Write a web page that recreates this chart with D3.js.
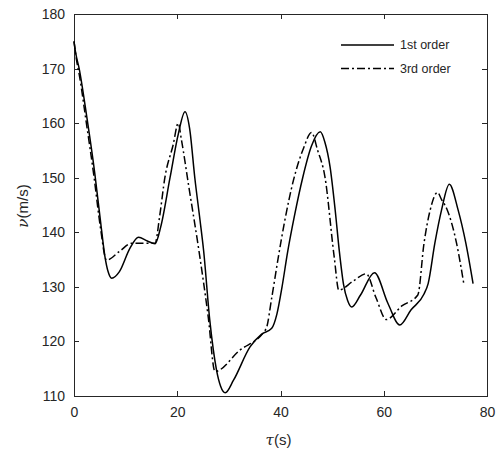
<!DOCTYPE html>
<html lang="en">
<head>
    <meta charset="UTF-8">
    <title>velocity</title>
    <style>
        body { margin: 0; background: #fff; }
        #chart { font-family: "Liberation Sans", Arial, sans-serif; }
        .axis path, .axis line { stroke: #262626; shape-rendering: crispEdges; }
        .axis text { fill: #262626; font-size: 14px; font-family: "Liberation Sans", Arial, sans-serif; }
        .line { fill: none; stroke: #000; stroke-width: 1.5px; }
        .legend-text { font-size: 12.5px; fill: #262626; }
    </style>
    <script src="https://d3js.org/d3.v7.min.js"></script>
</head>
<body>
    <div id="chart"></div>
    <script>
        // 1st order solution
        const t1 = [0, 0.3, 1, 2.5, 4, 5.2, 6, 6.6, 7.3, 8.8, 10.8, 12.5, 14.2, 15.7, 16.8, 18.6, 20.2, 21.5,
            22.4, 23.4, 24.4, 25.1, 26.3, 27.6, 28.4, 29.3, 30.9, 34.1, 36.3, 38.3, 39.3, 40.3, 41.4, 42.7, 44.3, 46, 47.7,
            48.6, 49.6, 50.6, 51.4, 52.2, 53, 53.8, 55.5, 58.2, 60.8, 63.1, 65.3, 67.8, 68.6, 69.9, 71.2, 72.7,
            74.4, 75.9, 77.3];
        const v1 = [175, 173, 170, 161, 151, 141.5, 135.5, 132.8, 131.6, 132.8, 137, 139.1, 138.4, 137.9, 141, 150, 158, 162.1,
            159, 150, 142.3, 136.7, 123.9, 114.8, 111.8, 110.6, 112.9, 119, 121.3, 122.4, 125, 130, 136.5, 143, 150, 155.8, 158.4,
            156.5, 152, 144, 136.5, 130.5, 127.5, 126.3, 128.5, 132.6, 127, 123, 125.8, 128.7, 130.6, 138, 144.1, 148.8,
            144.1, 138, 130.6];

        // 3rd order solution
        const t3 = [0, 0.5, 1, 2.4, 3.9, 5.1, 6.3, 8.8, 11.2, 13.5, 15.7, 16.6, 17.6, 19.2, 20.2, 20.8, 22.3,
            24.3, 26, 27.3, 32, 37.2, 38.3, 39.5, 40.8, 42.5, 44.5, 46.0, 47.2, 48.6, 50.4, 51.3, 54,
            56.6, 58.5, 60.5, 63.5, 66.6, 67.8, 69.0, 70.4, 71.2, 72.3, 74.1, 75.5];
        const v3 = [175, 171.5, 169, 160, 150, 141, 134.9, 136.5, 138, 138, 138, 143, 150, 156, 160, 157, 148,
            136, 124.5, 114.5, 118.3, 122.3, 128, 135, 142, 149.5, 155.5, 158.3, 155, 150.2, 135.5, 129.4, 131,
            132.4, 128, 124, 126.5, 128.5, 138, 144.1, 147.3, 146, 144.1, 138, 130.6];

        const xTicks = [0, 20, 40, 60, 80];
        const yTicks = [110, 120, 130, 140, 150, 160, 170, 180];
        const seriesNames = ["1st order", "3rd order"];

        const margin = { top: 14, right: 11, bottom: 56, left: 74 };
        const W = 498, H = 452;
        const width = W - margin.left - margin.right;
        const height = H - margin.top - margin.bottom;

        const svg = d3.select("#chart")
            .append("svg")
            .attr("width", W)
            .attr("height", H)
            .append("g")
            .attr("transform", `translate(${margin.left},${margin.top})`);

        const x = d3.scaleLinear().domain([0, 80]).range([0, width]);
        const y = d3.scaleLinear().domain([110, 180]).range([height, 0]);

        // box axes with inward ticks on all sides
        svg.append("g").attr("class", "axis")
            .attr("transform", `translate(0,${height})`)
            .call(d3.axisBottom(x).tickValues(xTicks).tickSizeInner(-5).tickSizeOuter(0).tickPadding(11));
        svg.append("g").attr("class", "axis")
            .call(d3.axisTop(x).tickValues(xTicks).tickSizeInner(-5).tickSizeOuter(0).tickFormat(""));
        svg.append("g").attr("class", "axis")
            .call(d3.axisLeft(y).tickValues(yTicks).tickSizeInner(-5).tickSizeOuter(0).tickPadding(9));
        svg.append("g").attr("class", "axis")
            .attr("transform", `translate(${width},0)`)
            .call(d3.axisRight(y).tickValues(yTicks).tickSizeInner(-5).tickSizeOuter(0).tickFormat(""));

        // axis labels
        svg.append("text")
            .attr("x", x(40) - 2)
            .attr("y", height + 49)
            .attr("text-anchor", "middle")
            .style("font-size", "15px")
            .style("fill", "#262626")
            .html('<tspan font-style="italic" font-family="DejaVu Serif">τ</tspan>(s)');

        svg.append("text")
            .attr("transform", `translate(${-46},${y(145) + 1}) rotate(-90)`)
            .attr("text-anchor", "middle")
            .style("font-size", "15px")
            .style("fill", "#262626")
            .html('<tspan font-style="italic" font-family="DejaVu Serif">ν</tspan>(m/s)');

        const line = d3.line()
            .x(d => x(d[0]))
            .y(d => y(d[1]));

        const first = t1.map((t, i) => [t, v1[i]]);
        const third = t3.map((t, i) => [t, v3[i]]);

        svg.append("path")
            .attr("class", "line")
            .attr("d", line.curve(d3.curveMonotoneX)(first));

        svg.append("path")
            .attr("class", "line")
            .style("stroke-dasharray", "8,3,2,3")
            .attr("d", line.curve(d3.curveMonotoneX)(third));

        // legend
        const legend = svg.selectAll(".legend")
            .data(seriesNames)
            .enter().append("g")
            .attr("class", "legend")
            .attr("transform", (d, i) => `translate(${267}, ${31 + i * 23.5})`);

        legend.append("line")
            .attr("x1", 0).attr("x2", 53)
            .attr("y1", 0).attr("y2", 0)
            .style("stroke", "#000")
            .style("stroke-width", 1.5)
            .style("stroke-dasharray", (d, i) => i === 1 ? "8,3,2,3" : null);

        legend.append("text")
            .attr("class", "legend-text")
            .attr("x", 59)
            .attr("y", 0)
            .attr("dy", ".35em")
            .text(d => d);
    </script>
</body>
</html>
